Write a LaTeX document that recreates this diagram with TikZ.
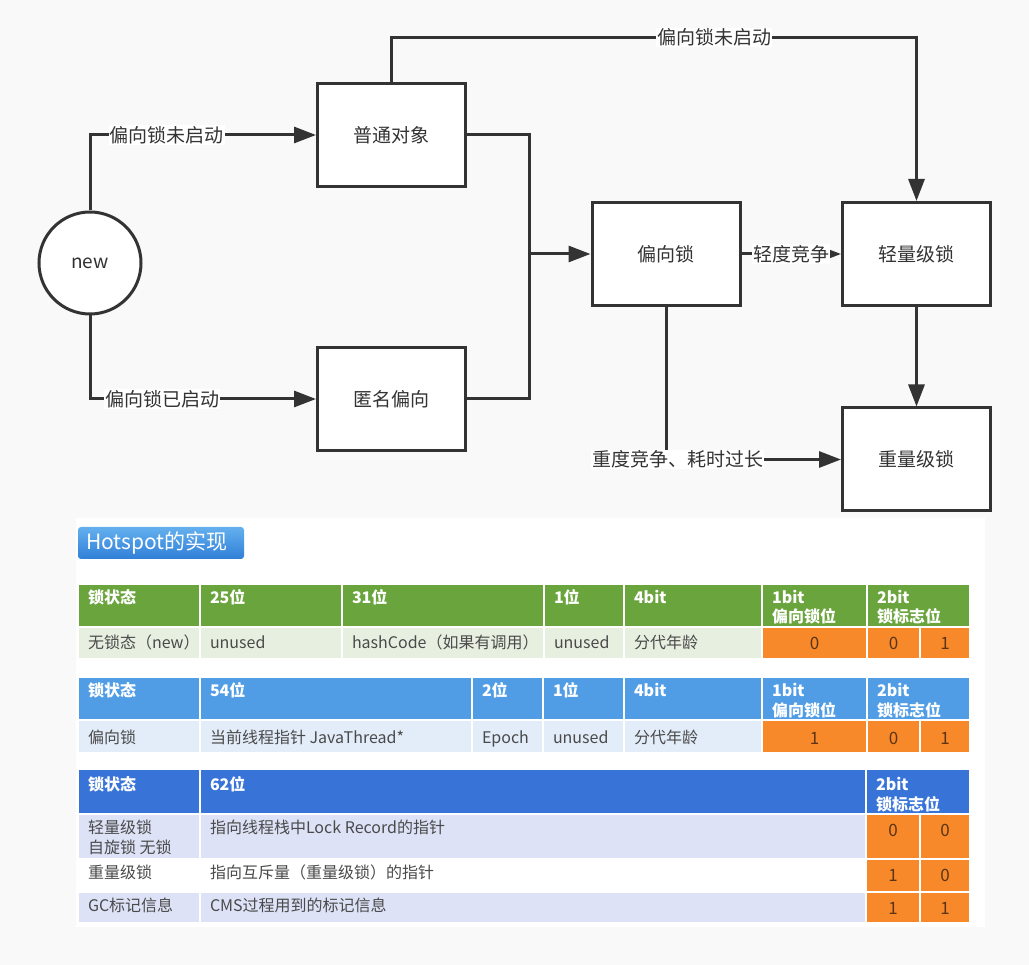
\documentclass[tikz,border=0pt]{standalone}
\usepackage{fontspec}
\setmainfont{Noto Sans CJK SC}
\usetikzlibrary{arrows.meta, positioning}
\definecolor{ink}{HTML}{333333}
\definecolor{canvas}{HTML}{F9F9F9}
\definecolor{hdgreen}{HTML}{6AA43C}
\definecolor{bdgreen}{HTML}{E7F0E0}
\definecolor{hdblue}{HTML}{509DE6}
\definecolor{bdblue}{HTML}{E3ECF9}
\definecolor{hddeep}{HTML}{3874D8}
\definecolor{bdlav}{HTML}{DDE2F7}
\definecolor{bitorange}{HTML}{F8892B}
\definecolor{bittext}{HTML}{5A3414}
\definecolor{celltext}{HTML}{4A4A4A}
\definecolor{btntop}{HTML}{64B0EE}
\definecolor{btnbot}{HTML}{2F7FD8}
\newcommand{\stackrows}[2]{\vtop{\hbox{#1}\hbox{#2}}}
\begin{document}
\begin{tikzpicture}[x=1pt, y=-1pt, font=\fontsize{19}{23}\selectfont, text=ink,
  state/.style={draw=ink, line width=3pt, fill=white, minimum width=148pt, minimum height=103pt},
  start/.style={draw=ink, line width=3pt, fill=white, circle, minimum size=102pt},
  flow/.style={draw=ink, line width=3pt, -{Triangle[length=22pt, width=16pt]}},
  wire/.style={draw=ink, line width=3pt},
  lbl/.style={fill=white, inner sep=1pt},
  cell/.style={draw=white, line width=2pt},
  hd/.style={anchor=base west, text=white, font=\fontsize{16}{20}\selectfont\bfseries, inner sep=0pt},
  bd/.style={anchor=base west, text=celltext, font=\fontsize{16}{20}\selectfont, inner sep=0pt},
  bit/.style={anchor=base, text=bittext, font=\fontsize{17}{20}\selectfont, inner sep=0pt}]
\useasboundingbox[fill=canvas] (0,0) rectangle (1029,965);

% 锁升级流程
\node[start] (new) at (90,263) {new};
\node[state] (plain) at (391.5,135) {普通对象};
\node[state] (anon) at (391.5,399) {匿名偏向};
\node[state] (biased) at (666,254) {偏向锁};
\node[state] (light) at (916.5,254) {轻量级锁};
\node[state] (heavy) at (916.5,459.5) {重量级锁};
\coordinate (join) at (529,254);
\coordinate (ridge) at (714,37.5);

\draw[flow] (new.north) |- node[lbl, pos=0.67] {偏向锁未启动} (plain.west);
\draw[flow] (new.south) |- node[lbl, pos=0.66] {偏向锁已启动} (anon.west);
\draw[wire] (plain.east) -| (join);
\draw[wire] (anon.east) -| (join);
\draw[flow] (join) -- (biased.west);
\draw[flow] (plain.north) |- node[lbl, pos=1] {偏向锁未启动} (ridge) -| (light.north);
\draw[flow] (biased.east) -- node[lbl] {轻度竞争} (light.west);
\draw[flow] (light.south) -- (heavy.north);
\draw[flow] (biased.south) |- node[lbl, pos=0.534] {重度竞争、耗时过长} (heavy.west);

% Hotspot的实现
\fill[white] (76,518) rectangle (985,927);
\shade[top color=btntop, bottom color=btnbot, rounded corners=3pt] (78,527) rectangle (244,559);
\node[anchor=west, text=white, font=\fontsize{21}{24}\selectfont, inner sep=0pt] (title) at (86,543) {Hotspot的实现};

% 无锁态
\foreach \xa/\xb/\txt in {78/200/锁状态, 200/342/25位, 342/544/31位, 544/624/1位, 624/762/4bit, 762/867/{\stackrows{1bit}{偏向锁位}}, 867/970/{\stackrows{2bit}{锁标志位}}}
  \draw[cell, fill=hdgreen] (\xa,584) rectangle (\xb,627) node[hd] at (\xa+9,603) {\txt};
\foreach \xa/\xb/\txt in {78/200/无锁态（new）, 200/342/unused, 342/544/hashCode（如果有调用）, 544/624/unused, 624/762/分代年龄}
  \draw[cell, fill=bdgreen] (\xa,627) rectangle (\xb,659) node[bd] at (\xa+9,648) {\txt};
\foreach \xa/\xb/\txt in {762/867/0, 867/920/0, 920/970/1}
  \draw[cell, fill=bitorange] (\xa,627) rectangle (\xb,659) node[bit] at ({(\xa+\xb)/2},649) {\txt};

% 偏向锁
\foreach \xa/\xb/\txt in {78/200/锁状态, 200/472/54位, 472/543/2位, 543/624/1位, 624/762/4bit, 762/867/{\stackrows{1bit}{偏向锁位}}, 867/970/{\stackrows{2bit}{锁标志位}}}
  \draw[cell, fill=hdblue] (\xa,677) rectangle (\xb,720) node[hd] at (\xa+9,696) {\txt};
\foreach \xa/\xb/\txt in {78/200/偏向锁, 200/472/当前线程指针 JavaThread*, 472/543/Epoch, 543/624/unused, 624/762/分代年龄}
  \draw[cell, fill=bdblue] (\xa,720) rectangle (\xb,753) node[bd] at (\xa+9,743) {\txt};
\foreach \xa/\xb/\txt in {762/867/1, 867/920/0, 920/970/1}
  \draw[cell, fill=bitorange] (\xa,720) rectangle (\xb,753) node[bit] at ({(\xa+\xb)/2},744) {\txt};

% 轻量级锁、重量级锁、GC标记
\foreach \xa/\xb/\txt in {78/200/锁状态, 200/866/62位, 866/970/{\stackrows{2bit}{锁标志位}}}
  \draw[cell, fill=hddeep] (\xa,769) rectangle (\xb,814) node[hd] at (\xa+9,790) {\txt};
\foreach \ya/\yb/\shade/\st/\ptr/\hi/\lo in {814/859/bdlav/{\stackrows{轻量级锁}{自旋锁 无锁}}/指向线程栈中Lock Record的指针/0/0, 859/892/white/重量级锁/指向互斥量（重量级锁）的指针/1/0, 892/923/bdlav/GC标记信息/CMS过程用到的标记信息/1/1}
{
  \draw[cell, fill=\shade] (78,\ya) rectangle (200,\yb) node[bd] at (87,\ya+19.5) {\st};
  \draw[cell, fill=\shade] (200,\ya) rectangle (866,\yb) node[bd] at (209,\ya+19.5) {\ptr};
  \draw[cell, fill=bitorange] (866,\ya) rectangle (920,\yb) node[bit] at (893,\ya+22) {\hi};
  \draw[cell, fill=bitorange] (920,\ya) rectangle (970,\yb) node[bit] at (945,\ya+22) {\lo};
}
\end{tikzpicture}
\end{document}
